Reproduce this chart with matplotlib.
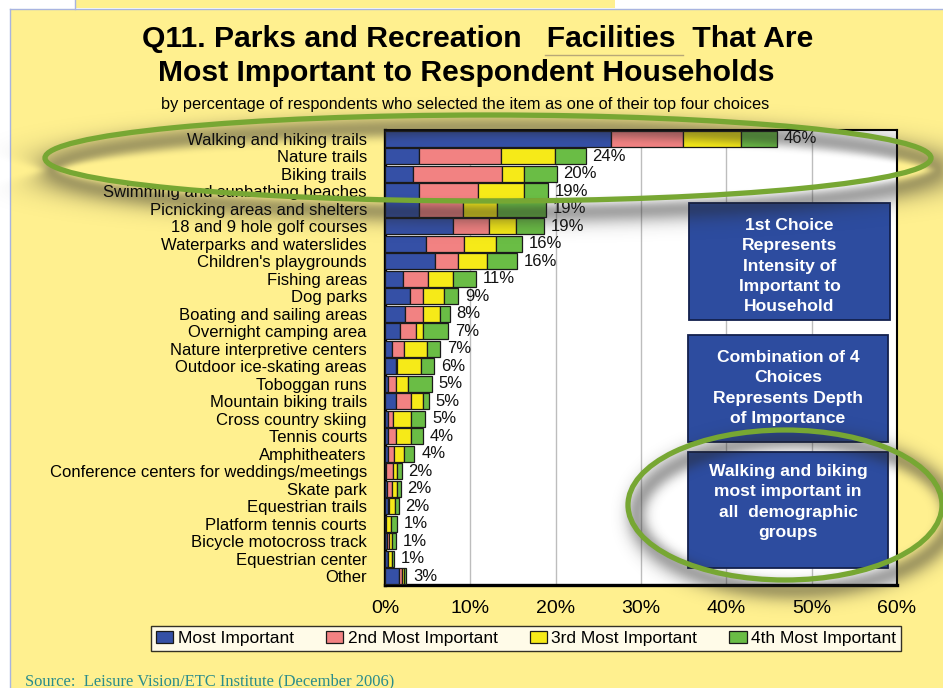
import numpy as np
import matplotlib
matplotlib.use("Agg")
import matplotlib.pyplot as plt
from matplotlib.patches import Rectangle, Ellipse

# ---------------- data ----------------
categories = [
    "Walking and hiking trails", "Nature trails", "Biking trails",
    "Swimming and sunbathing beaches", "Picnicking areas and shelters",
    "18 and 9 hole golf courses", "Waterparks and waterslides",
    "Children's playgrounds", "Fishing areas", "Dog parks",
    "Boating and sailing areas", "Overnight camping area",
    "Nature interpretive centers", "Outdoor ice-skating areas",
    "Toboggan runs", "Mountain biking trails", "Cross country skiing",
    "Tennis courts", "Amphitheaters", "Conference centers for weddings/meetings",
    "Skate park", "Equestrian trails", "Platform tennis courts",
    "Bicycle motocross track", "Equestrian center", "Other",
]
most_important = [26.5, 4.0, 3.3, 4.0, 4.0, 8.0, 4.8, 5.9, 2.1, 2.9, 2.4, 1.8, 0.8,
                  1.3, 0.3, 1.3, 0.3, 0.4, 0.3, 0.1, 0.2, 0.3, 0.1, 0.2, 0.3, 1.6]
second_important = [8.4, 9.6, 10.4, 6.9, 5.1, 4.2, 4.5, 2.7, 2.9, 1.5, 2.1, 1.8, 1.4,
                    0.15, 0.95, 1.8, 0.6, 0.85, 0.7, 0.8, 0.65, 0.2, 0.0, 0.3, 0.1, 0.4]
third_important = [6.8, 6.3, 2.6, 5.4, 4.0, 3.1, 3.7, 3.4, 3.0, 2.5, 2.0, 0.9, 2.7,
                   2.75, 1.5, 1.3, 2.2, 1.75, 1.2, 0.55, 0.5, 0.7, 0.6, 0.3, 0.4, 0.2]
fourth_important = [4.2, 3.6, 3.8, 2.8, 5.8, 3.3, 3.1, 3.5, 2.7, 1.7, 1.1, 2.9, 1.6,
                    1.6, 2.7, 0.7, 1.6, 1.4, 1.25, 0.5, 0.5, 0.4, 0.7, 0.45, 0.3, 0.3]
total_labels = ["46%", "24%", "20%", "19%", "19%", "19%", "16%", "16%", "11%", "9%",
                "8%", "7%", "7%", "6%", "5%", "5%", "5%", "4%", "4%", "2%", "2%",
                "2%", "1%", "1%", "1%", "3%"]
series_names = ["Most Important", "2nd Most Important", "3rd Most Important", "4th Most Important"]
series_colors = ["#3550A6", "#F28282", "#F6EA18", "#6ABD45"]
xticks = [0, 10, 20, 30, 40, 50, 60]
xtick_labels = ["0%", "10%", "20%", "30%", "40%", "50%", "60%"]

# ---------------- figure ----------------
W, H = 943, 688
plt.rcParams['font.family'] = ['Liberation Sans', 'DejaVu Sans']
fig = plt.figure(figsize=(W / 100, H / 100), dpi=100)
YELLOW = "#FFF08F"
fig.patch.set_facecolor(YELLOW)

def fx(x):
    return x / W

def fy(y):
    return 1 - y / H

# background decoration axes
bg = fig.add_axes([0, 0, 1, 1], zorder=0)
bg.set_xlim(0, W); bg.set_ylim(H, 0); bg.axis("off")
bg.add_patch(Rectangle((0, 0), W, 8.5, color="white", lw=0))
bg.add_patch(Rectangle((0, 0), 10, H, color="white", lw=0))
bg.add_patch(Rectangle((75, 0), 540, 8, color=YELLOW, lw=0))
grad = np.linspace(0, 1, 200)[None, :]
bg.imshow(np.dstack([0.45 + 0.55 * grad] * 3), extent=(615, W, 8, 0), aspect="auto")
bg.plot([10, W], [8.5, 8.5], color="#A8B4E0", lw=1)
bg.plot([10, 10], [8.5, H], color="#A8B4E0", lw=1)
bg.plot([74.5, 74.5], [0, 8.5], color="#A8B4E0", lw=1)

# main chart axes
L, R, T, B = 385, 897, 130, 585
ax = fig.add_axes([fx(L), fy(B), (R - L) / W, (B - T) / H], zorder=2)
ax.set_facecolor("white")
y = np.arange(len(categories))
left = np.zeros(len(categories))
for vals, name, col in zip([most_important, second_important, third_important, fourth_important],
                           series_names, series_colors):
    ax.barh(y, vals, left=left, height=0.9, color=col, edgecolor="#1A1A1A",
            linewidth=0.9, label=name, zorder=3)
    left = left + np.array(vals)
for yi, tot, lab in zip(y, left, total_labels):
    ax.text(tot + 0.8, yi, lab, va="center", ha="left", fontsize=12, color="#111111", zorder=4)

ax.set_xlim(0, 60)
ax.set_ylim(len(categories) - 0.5, -0.5)
ax.set_xticks(xticks)
ax.set_xticklabels(xtick_labels, fontsize=14)
ax.set_yticks(y)
ax.set_yticklabels(categories, fontsize=12)
ax.tick_params(axis="y", length=0, pad=13)
ax.tick_params(axis="x", length=0, pad=11)
ax.xaxis.grid(True, color="#BDBDBD", lw=1)
ax.set_axisbelow(True)
for s in ["left", "bottom"]:
    ax.spines[s].set_linewidth(2.4)
for s in ["top", "right"]:
    ax.spines[s].set_linewidth(1.5)

# legend
handles, labels = ax.get_legend_handles_labels()
leg = fig.legend(handles, labels, loc="center", bbox_to_anchor=(fx(526), fy(638.5)), ncol=4,
                 fontsize=12.5, frameon=True, fancybox=False, edgecolor="black",
                 handlelength=1.0, handleheight=0.65, handletextpad=0.25, columnspacing=1.85,
                 borderpad=0.3, borderaxespad=0)
leg.get_frame().set_linewidth(1.0)
leg.get_frame().set_facecolor("white")

# titles
fig.text(fx(478), fy(39), "Q11. Parks and Recreation   Facilities  That Are",
         ha="center", va="center", fontsize=21.7, weight="bold")
fig.text(fx(466), fy(73), "Most Important to Respondent Households",
         ha="center", va="center", fontsize=21.7, weight="bold")
fig.text(fx(465), fy(104),
         "by percentage of respondents who selected the item as one of their top four choices",
         ha="center", va="center", fontsize=11.8)
fig.text(fx(25), fy(681), "Source:  Leisure Vision/ETC Institute (December 2006)",
         ha="left", va="center", fontsize=11.9, color="#2A8C8C", family="Liberation Serif")

# overlay: boxes, ellipses, shadows
ov = fig.add_axes([0, 0, 1, 1], zorder=5)
ov.set_xlim(0, W); ov.set_ylim(H, 0); ov.axis("off")
ov.patch.set_visible(False)

ov.plot([545, 683], [55, 55], color="#B8A878", lw=1)

boxes = [
    ((689, 203, 201, 117), "1st Choice\nRepresents\nIntensity of\nImportant to\nHousehold", 266),
    ((688, 335, 200, 107), "Combination of 4\nChoices\nRepresents Depth\nof Importance", 388),
    ((688, 452, 200, 116), "Walking and biking\nmost important in\nall  demographic\ngroups", 502),
]
for (bx, by, bw, bh), txt, ty in boxes:
    ov.add_patch(Rectangle((bx, by), bw, bh, facecolor="#2D4C9F", edgecolor="#13204D", lw=1.3))
    ov.text(bx + bw / 2, ty, txt, ha="center", va="center", color="white", fontsize=12.6,
            weight="bold", linespacing=1.45)

# shadows from ellipses
xx, yy = np.meshgrid(np.arange(W) + 0.5, np.arange(H) + 0.5)
ells = [(488, 158, 443, 43, 7, 12), (785, 505, 157, 75, 9, 10)]
shade = np.zeros((H, W))
for cx, cy, a, b, ox, oy in ells:
    dx = xx - (cx + ox)
    dy = yy - (cy + oy)
    F = (dx / a) ** 2 + (dy / b) ** 2 - 1
    g = np.sqrt((2 * dx / a ** 2) ** 2 + (2 * dy / b ** 2) ** 2) + 1e-6
    d = np.abs(F) / g
    shade = np.maximum(shade, np.exp(-0.5 * (d / 8.0) ** 2))
rgba = np.zeros((H, W, 4))
rgba[..., :3] = 0.15
rgba[..., 3] = 0.42 * shade
ov.imshow(rgba, extent=(0, W, H, 0), interpolation="bilinear", aspect="auto", zorder=1)

for cx, cy, a, b, ox, oy in ells:
    ov.add_patch(Ellipse((cx, cy), 2 * a, 2 * b, fill=False, edgecolor="#77A733", lw=3.8, zorder=3))

fig.savefig("out.png", dpi=100, facecolor=fig.get_facecolor())
